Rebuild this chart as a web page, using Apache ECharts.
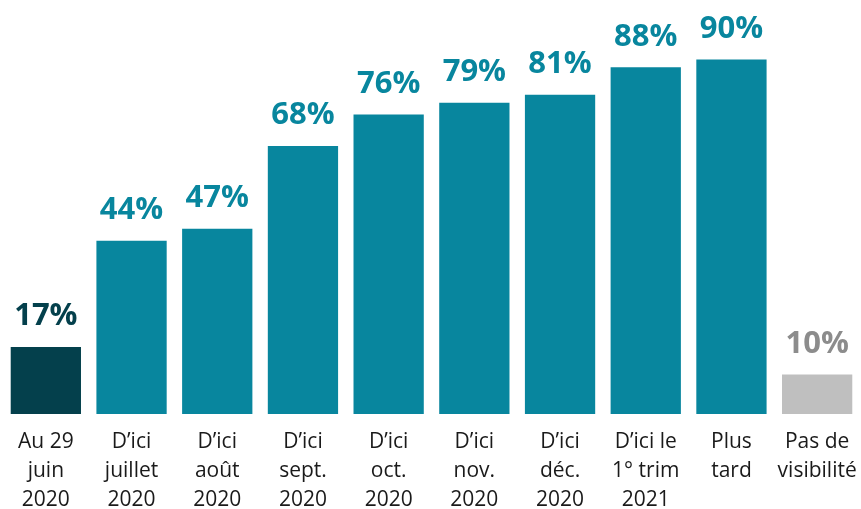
<!DOCTYPE html>
<html>
<head>
<meta charset="utf-8">
<script src="https://cdn.jsdelivr.net/npm/echarts@6/dist/echarts.min.js"></script>
<style>
html,body{margin:0;padding:0;background:#fff;}
#chart{width:861px;height:509px;}
</style>
</head>
<body>
<div id="chart"></div>
<script>
const categories = [
  "Au 29\njuin\n2020",
  "D\u2019ici\njuillet\n2020",
  "D\u2019ici\nao\u00fbt\n2020",
  "D\u2019ici\nsept.\n2020",
  "D\u2019ici\noct.\n2020",
  "D\u2019ici\nnov.\n2020",
  "D\u2019ici\nd\u00e9c.\n2020",
  "D\u2019ici le\n1\u00b0 trim\n2021",
  "Plus\ntard",
  "Pas de\nvisibilit\u00e9"
];
const values = [17, 44, 47, 68, 76, 79, 81, 88, 90, 10];
const barColors = ["#04404C", "#08869E", "#08869E", "#08869E", "#08869E", "#08869E", "#08869E", "#08869E", "#08869E", "#BFBFBF"];
const labelColors = ["#04404C", "#08869E", "#08869E", "#08869E", "#08869E", "#08869E", "#08869E", "#08869E", "#08869E", "#8C8C8C"];

const chart = echarts.init(document.getElementById('chart'), null, {renderer: 'canvas'});
chart.setOption({
  animation: false,
  backgroundColor: '#ffffff',
  grid: {left: 3, right: 1, top: 20, bottom: 95, containLabel: false, outerBoundsMode: 'none'},
  xAxis: {
    type: 'category',
    data: categories,
    axisLine: {show: false},
    axisTick: {show: false},
    axisLabel: {
      interval: 0,
      margin: 14,
      fontFamily: 'Open Sans',
      fontSize: 21,
      lineHeight: 29,
      color: '#1a1a1a',
      align: 'center',
      verticalAlign: 'top'
    }
  },
  yAxis: {
    type: 'value',
    min: 0,
    max: 100,
    show: false,
    splitLine: {show: false}
  },
  series: [{
    type: 'bar',
    barCategoryGap: '18%',
    data: values.map((v, i) => ({
      value: v,
      itemStyle: {color: barColors[i]},
      label: {color: labelColors[i]}
    })),
    label: {
      show: true,
      position: 'top',
      distance: 15,
      formatter: '{c}%',
      fontFamily: 'Open Sans',
      fontWeight: 'bold',
      fontSize: 31
    }
  }]
});
</script>
</body>
</html>
